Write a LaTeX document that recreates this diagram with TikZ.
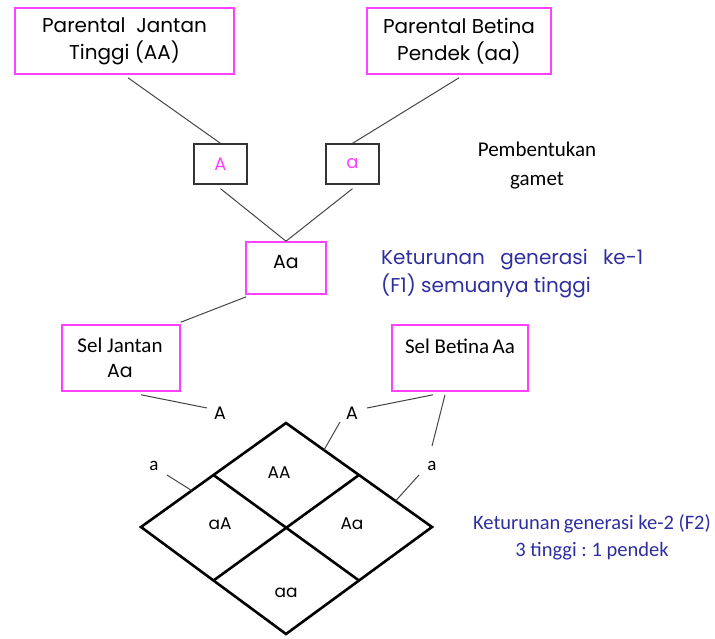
\documentclass[tikz,border=0pt]{standalone}
\usepackage{fontspec}
\setmainfont{Carlito}
\newfontfamily\gothic{Poppins}
\usetikzlibrary{calc}
\definecolor{mag}{RGB}{255,64,255}
\definecolor{navy}{RGB}{46,46,160}
\definecolor{connc}{RGB}{70,70,70}
\frenchspacing
\begin{document}
\begin{tikzpicture}[x=1pt,y=-1pt,
  magbox/.style={draw=mag, line width=1.6pt, inner sep=0pt},
  gbox/.style={draw=black!80, line width=1.3pt, inner sep=0pt, minimum width=53pt, minimum height=40pt, text=mag, font=\gothic\fontsize{18}{20}\selectfont},
  conn/.style={draw=connc, line width=1pt},
  gridln/.style={draw=black, line width=2.6pt},
  gt/.style={inner sep=0pt, font=\gothic\fontsize{17}{20}\selectfont},
  ct/.style={inner sep=0pt, font=\fontsize{21}{24}\selectfont}]
\useasboundingbox (0,0) rectangle (715,638);
% parents
\node[magbox, minimum width=219pt, minimum height=66pt, align=center, font=\gothic\fontsize{20}{27}\selectfont] (pj) at (124.5,41) {Parental\ \ Jantan\\Tinggi (AA)};
\node[magbox, minimum width=184pt, minimum height=66pt, align=center, font=\gothic\fontsize{20}{27}\selectfont] (pb) at (459,41) {Parental Betina\\Pendek (aa)};
% gametes
\node[gbox] (ga) at (220.5,164) {A};
\node[gbox] (gb) at (352.5,164) {a};
\node[ct, font=\fontsize{21}{29}\selectfont, align=center] (pg) at (537,166) {Pembentukan\\gamet};
% F1
\node[magbox, minimum width=80pt, minimum height=52pt] (f1) at (286,268) {};
\node[gt, font=\gothic\fontsize{19}{20}\selectfont] (f1t) at (286,262) {Aa};
\node[inner sep=0pt, anchor=west, align=left, text=navy, font=\gothic\fontsize{20}{28}\selectfont] (f1d) at (381,274) {\makebox[262pt][s]{Keturunan generasi ke-1}\\(F1) semuanya tinggi};
% cells
\node[magbox, minimum width=118pt, minimum height=66pt] (sj) at (121,358) {};
\node[ct] (sjt) at (120,345) {Sel Jantan};
\node[gt, font=\gothic\fontsize{19}{20}\selectfont] (sja) at (120,371) {Aa};
\node[magbox, minimum width=136pt, minimum height=66pt] (sb) at (460,358) {};
\node[ct] (sbt) at (460,346) {Sel Betina\,Aa};
% connectors top
\draw[conn] ([xshift=3.5pt,yshift=-3pt]pj.south) -- (ga.north);
\draw[conn] ([yshift=-3pt]pb.south) -- (gb.north);
\draw[conn] ([yshift=-4pt]ga.south) -- (f1.north);
\draw[conn] ([yshift=-4pt]gb.south) -- (f1.north);
\draw[conn] ([xshift=1pt,yshift=-2pt]f1.south west) -- ([yshift=2pt]sj.north east);
% diamond
\coordinate (T) at (286,423);
\coordinate (L) at (141,527);
\coordinate (R) at (432,527);
\coordinate (B) at (286,634);
\draw[gridln] (T) -- (R) -- (B) -- (L) -- cycle;
\draw[gridln] ($(T)!0.5!(L)$) -- ($(R)!0.5!(B)$);
\draw[gridln] ($(T)!0.5!(R)$) -- ($(L)!0.5!(B)$);
\node[gt] (cAA) at (279,473) {AA};
\node[gt] (caA) at (220,524) {aA};
\node[gt] (cAa) at (352,524) {Aa};
\node[gt] (caa) at (286,593) {aa};
% gamete labels
\node[gt, font=\gothic\fontsize{18}{20}\selectfont] (lA1) at (220,413) {A};
\node[gt, font=\gothic\fontsize{18}{20}\selectfont] (lA2) at (352,413) {A};
\node[ct, font=\fontsize{19}{20}\selectfont] (la1) at (154,466) {a};
\node[ct, font=\fontsize{19}{20}\selectfont] (la2) at (432,466) {a};
\draw[conn] ([xshift=20pt,yshift=-3pt]sj.south) -- ([xshift=-13pt,yshift=5pt]lA1.center);
\draw[conn] ([xshift=-27pt,yshift=-3pt]sb.south) -- ([xshift=15pt,yshift=5pt]lA2.center);
\draw[conn] ([xshift=-15pt,yshift=-3pt]sb.south) -- ([yshift=20pt]la2.center);
\draw[conn] ([xshift=-12pt,yshift=-9pt]lA2.center) -- ($(T)!0.26!(R)$);
\draw[conn] ([xshift=13pt,yshift=-9pt]la1.center) -- ($(T)!0.65!(L)$);
\draw[conn] ([xshift=-13pt,yshift=-9pt]la2.center) -- ($(T)!0.75!(R)$);
% F2
\node[ct, text=navy, align=center, font=\fontsize{20.5}{27}\selectfont] (f2d) at (592,537) {Keturunan\,generasi ke-2 (F2)\\3 tinggi : 1 pendek};
\end{tikzpicture}
\end{document}
